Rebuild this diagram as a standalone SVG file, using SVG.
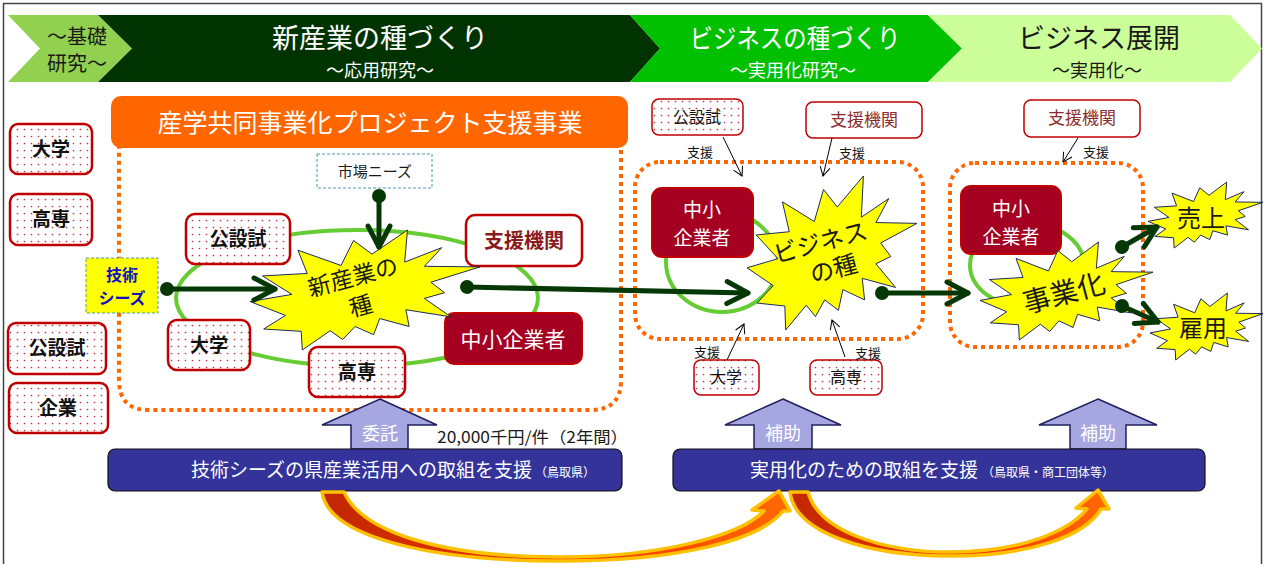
<svg xmlns="http://www.w3.org/2000/svg" width="1266" height="564" viewBox="0 0 1266 564">
<defs>
<style>
text{font-family:"Noto Sans CJK JP","Noto Sans",sans-serif;}
.c{text-anchor:middle}
.w{fill:#fff}
.k{fill:#1a1a1a}
.dotbox{fill:url(#dots);stroke:#C00000;stroke-width:2.5}
.dotbox2{fill:url(#dots);stroke:#C00000;stroke-width:1.5}
.bb{font-size:19px;font-weight:bold;fill:#111;text-anchor:middle}
.sb{font-size:16px;fill:#111;text-anchor:middle}
.sme{fill:#A50021;stroke:#C00000;stroke-width:2}
.burst{fill:#FFFF00;stroke:#1F2A5A;stroke-width:1}
.loop{fill:none;stroke:#66CC33;stroke-width:4}
.zone{fill:none;stroke:#FF6600;stroke-width:4;stroke-dasharray:4 4}
.thick{stroke:#063806;stroke-width:5;fill:none;stroke-linecap:round}
.thin{stroke:#000;stroke-width:1;fill:none}
.lbl{font-size:13px;fill:#111;text-anchor:middle}
.bar{fill:#333399;stroke:#111;stroke-width:1.2}
.up{fill:#A6A6E0;stroke:#1F1F5F;stroke-width:1.5}
.curve{fill:url(#flame);stroke:#FFC000;stroke-width:3.5;stroke-linejoin:round}
.sup{fill:#fff;stroke:#C00000}
</style>
<pattern id="dots" width="7" height="7" patternUnits="userSpaceOnUse">
<rect width="7" height="7" fill="#fff"/>
<circle cx="3.5" cy="3.5" r="0.85" fill="#C0314D"/>
</pattern>
<path id="burst" class="burst" vector-effect="non-scaling-stroke" d="M53.06 20.1 L68.47 0 L67.25 26.75 L83.37 14.69 L75.83 30.24 L100 30.76 L78.63 43.53 L84.58 52.27 L75.83 56.99 L87.39 72.37 L67.78 66.44 L69.18 80.42 L56.39 73.77 L53.76 87.23 L45.7 80.42 L40.28 91.26 L34.85 83.91 L22.76 100 L22.25 84.44 L5.95 82.52 L15.42 71.16 L0 59.62 L18.22 53.67 L5.43 38.29 L24.87 36.19 L20.84 16.78 L39.58 29.55 L45.01 8.74 Z"/>
<marker id="dot" markerUnits="userSpaceOnUse" markerWidth="16" markerHeight="16" refX="8" refY="8" orient="auto">
<circle cx="8" cy="8" r="7" fill="#063806"/>
</marker>
<marker id="chev" markerUnits="userSpaceOnUse" markerWidth="30" markerHeight="30" refX="25" refY="15" orient="auto">
<path d="M4 4 L25 15 L4 26" fill="none" stroke="#063806" stroke-width="5" stroke-linecap="round" stroke-linejoin="round"/>
</marker>
<marker id="thinhead" markerUnits="userSpaceOnUse" markerWidth="12" markerHeight="12" refX="10" refY="6" orient="auto">
<path d="M1 1 L10 6 L1 11" fill="none" stroke="#000" stroke-width="1"/>
</marker>
<linearGradient id="flame" x1="0" y1="0" x2="1" y2="0">
<stop offset="0" stop-color="#C02800"/>
<stop offset="0.6" stop-color="#FF3300"/>
<stop offset="1" stop-color="#FF6A00"/>
</linearGradient>
</defs>

<rect x="3.5" y="3.5" width="1258" height="580" fill="#fff" stroke="#444" stroke-width="1.5"/>

<g id="banner">
<polygon points="8,15 98,15 132,48.5 98,82 8,82 40,48.5" fill="#92D050"/>
<polygon points="98,15 630,15 660,48.5 630,82 98,82 132,48.5" fill="#003300"/>
<polygon points="630,15 928,15 962,48.5 928,82 630,82 660,48.5" fill="#00C000"/>
<polygon points="928,15 1230,15 1262,48.5 1230,82 928,82 962,48.5" fill="#CCFF99"/>
<text x="77" y="44" font-size="20" class="k c">～基礎</text>
<text x="77" y="71" font-size="20" class="k c">研究～</text>
<text x="380" y="48" font-size="27" class="w c">新産業の種づくり</text>
<text x="380" y="77" font-size="18" class="w c">～応用研究～</text>
<text x="795" y="48" font-size="26" class="w c" textLength="211" lengthAdjust="spacingAndGlyphs">ビジネスの種づくり</text>
<text x="793" y="77" font-size="18" class="w c">～実用化研究～</text>
<text x="1099" y="48" font-size="27" class="k c">ビジネス展開</text>
<text x="1097" y="77" font-size="18" class="k c">～実用化～</text>
</g>

<g id="left-players">
<g id="l-daigaku"><rect x="10" y="124" width="82" height="50" rx="8" class="dotbox"/><text x="51" y="156" class="bb">大学</text></g>
<g id="l-kosen"><rect x="10" y="194" width="82" height="51" rx="8" class="dotbox"/><text x="51" y="226" class="bb">高専</text></g>
<g id="l-kosetsushi"><rect x="8" y="323" width="98" height="51" rx="8" class="dotbox"/><text x="57" y="355" class="bb">公設試</text></g>
<g id="l-kigyo"><rect x="9" y="383" width="99" height="50" rx="8" class="dotbox"/><text x="58" y="415" class="bb">企業</text></g>
</g>

<g id="zone-applied">
<path d="M119 140 L621 140 L621 380 Q621 410 591 410 L149 410 Q119 410 119 380 Z" fill="#FFFFCC" class="zone"/>
<rect x="111" y="96" width="517" height="52" rx="10" fill="#FF6600"/>
<text x="370" y="132" font-size="25" class="w c">産学共同事業化プロジェクト支援事業</text>
<ellipse cx="357" cy="298" rx="181" ry="68" class="loop"/>
</g>

<g id="n-market"><rect x="317" y="154" width="115" height="34" fill="#fff" stroke="#4A9BA8" stroke-width="1" stroke-dasharray="3 2"/><text x="375" y="177" font-size="15" class="k c">市場ニーズ</text></g>
<g id="n-seeds"><rect x="86" y="258" width="72" height="55" fill="#FFFF00" stroke="#4A9BA8" stroke-width="1" stroke-dasharray="3 2"/><text x="122" y="281" font-size="16" font-weight="bold" fill="#1010C0" class="c">技術</text><text x="122" y="304" font-size="16" font-weight="bold" fill="#1010C0" class="c">シーズ</text></g>
<g id="n-a-kosetsushi"><rect x="186" y="214" width="104" height="50" rx="9" class="dotbox"/><text x="238" y="246" class="bb">公設試</text></g>
<g id="n-a-shien"><rect x="466" y="215" width="116" height="51" rx="9" class="sup" stroke-width="2.5"/><text x="524" y="248" font-size="20" font-weight="bold" fill="#8B1A1A" class="c">支援機関</text></g>
<g id="n-a-daigaku"><rect x="168" y="320" width="82" height="50" rx="9" class="dotbox"/><text x="209" y="352" class="bb">大学</text></g>
<g id="n-a-sme"><rect x="445" y="313" width="137" height="51" rx="9" class="sme"/><text x="513" y="347" font-size="21" class="w c">中小企業者</text></g>
<g id="n-seed1">
<use href="#burst" transform="translate(250 230) scale(2.3 1.2)"/>
<g transform="rotate(-15 360 292)"><text x="357" y="284" font-size="23" class="k c">新産業の</text><text x="357" y="314" font-size="23" class="k c">種</text></g>
</g>
<g id="n-a-kosen"><rect x="309" y="347" width="96" height="50" rx="9" class="dotbox"/><text x="357" y="379" class="bb">高専</text></g>

<g id="zone-practical">
<rect x="635" y="162" width="288" height="177" rx="25" class="zone"/>
<ellipse cx="722" cy="262" rx="56" ry="50" class="loop"/>
</g>
<g id="n-b-kosetsushi"><rect x="652" y="99" width="91" height="36" rx="7" class="dotbox2"/><text x="697" y="123" class="sb">公設試</text></g>
<g id="n-b-shien"><rect x="806" y="102" width="116" height="36" rx="7" class="sup" stroke-width="1.5"/><text x="864" y="126" font-size="17" fill="#8B2B2B" class="c">支援機関</text></g>
<g id="n-b-sme"><rect x="652" y="188" width="101" height="69" rx="10" class="sme"/><text x="702" y="217" font-size="19" class="w c">中小</text><text x="702" y="245" font-size="19" class="w c">企業者</text></g>
<g id="n-seed2">
<use href="#burst" transform="translate(747 176) scale(1.7 1.54)"/>
<g transform="rotate(-15 826 256)"><text x="824" y="250" font-size="24" class="k c">ビジネス</text><text x="830" y="279" font-size="24" class="k c">の種</text></g>
</g>
<g id="n-b-daigaku"><rect x="694" y="360" width="65" height="35" rx="7" class="dotbox2"/><text x="726" y="383" class="sb">大学</text></g>
<g id="n-b-kosen"><rect x="810" y="360" width="72" height="35" rx="7" class="dotbox2"/><text x="846" y="383" class="sb">高専</text></g>

<g id="zone-business">
<rect x="950" y="163" width="193" height="184" rx="25" class="zone"/>
<ellipse cx="1027" cy="265" rx="57" ry="42" class="loop"/>
</g>
<g id="n-c-shien"><rect x="1024" y="100" width="116" height="37" rx="7" class="sup" stroke-width="1.5"/><text x="1082" y="124" font-size="17" fill="#8B2B2B" class="c">支援機関</text></g>
<g id="n-c-sme"><rect x="961" y="186" width="100" height="68" rx="10" class="sme"/><text x="1011" y="216" font-size="19" class="w c">中小</text><text x="1011" y="244" font-size="19" class="w c">企業者</text></g>
<g id="n-jigyoka">
<use href="#burst" transform="translate(980 242) scale(1.73 0.98)"/>
<text x="1064" y="303" font-size="28" class="k c" transform="rotate(-15 1064 293)">事業化</text>
</g>
<g id="n-uriage">
<use href="#burst" transform="translate(1148 182) scale(1.15 0.66)"/>
<text x="1201" y="227" font-size="24" class="k c">売上</text>
</g>
<g id="n-koyo">
<use href="#burst" transform="translate(1150 293) scale(1.13 0.67)"/>
<text x="1203" y="337" font-size="24" class="k c">雇用</text>
</g>

<g id="connectors">
<line x1="167" y1="289" x2="275" y2="289" class="thick" marker-start="url(#dot)" marker-end="url(#chev)"/>
<line x1="379" y1="196" x2="379" y2="247" class="thick" marker-start="url(#dot)" marker-end="url(#chev)"/>
<line x1="467" y1="287" x2="748" y2="293" class="thick" marker-start="url(#dot)" marker-end="url(#chev)"/>
<line x1="882" y1="293" x2="968" y2="293" class="thick" marker-start="url(#dot)" marker-end="url(#chev)"/>
<line x1="1122" y1="247" x2="1157" y2="227" class="thick" marker-start="url(#dot)" marker-end="url(#chev)"/>
<line x1="1122" y1="306" x2="1158" y2="322" class="thick" marker-start="url(#dot)" marker-end="url(#chev)"/>
<line x1="723" y1="137" x2="742" y2="176" class="thin" marker-end="url(#thinhead)"/>
<line x1="832" y1="138" x2="823" y2="176" class="thin" marker-end="url(#thinhead)"/>
<line x1="727" y1="360" x2="744" y2="324" class="thin" marker-end="url(#thinhead)"/>
<line x1="845" y1="357" x2="832" y2="320" class="thin" marker-end="url(#thinhead)"/>
<line x1="1078" y1="138" x2="1063" y2="162" class="thin" marker-end="url(#thinhead)"/>
<text x="700" y="157" class="lbl">支援</text>
<text x="852" y="158" class="lbl">支援</text>
<text x="707" y="357" class="lbl">支援</text>
<text x="868" y="358" class="lbl">支援</text>
<text x="1096" y="157" class="lbl">支援</text>
</g>

<g id="funding">
<polygon points="380,399 437,425 408,425 408,449 351,449 351,425 322,425" class="up"/>
<text x="380" y="440" font-size="18" class="w c">委託</text>
<polygon points="783,399 841,425 812,425 812,449 754,449 754,425 725,425" class="up"/>
<text x="783" y="440" font-size="18" class="w c">補助</text>
<polygon points="1098,399 1157,425 1126,425 1126,449 1070,449 1070,425 1039,425" class="up"/>
<text x="1098" y="440" font-size="18" class="w c">補助</text>
<text x="437" y="443" font-size="16" class="k" textLength="191" lengthAdjust="spacingAndGlyphs">20,000千円/件（2年間）</text>
<rect x="108" y="449" width="514" height="42" rx="7" class="bar"/>
<text x="191" y="477" font-size="19" class="w">技術シーズの県産業活用への取組を支援<tspan font-size="12" dx="3">（鳥取県）</tspan></text>
<rect x="673" y="449" width="532" height="42" rx="7" class="bar"/>
<text x="750" y="477" font-size="19" class="w">実用化のための取組を支援<tspan font-size="12" dx="4">（鳥取県・商工団体等）</tspan></text>
</g>

<g id="flow-arrows">
<path class="curve" d="M322 492 C328 537 430 561 560 561 C680 561 760 540 783 511 L790 511 L779 491 L752 510 L764 511 C740 536 660 557 560 557 C440 557 362 532 344 492 Z"/>
<path class="curve" d="M790 492 C795 534 870 556 950 556 C1030 556 1085 536 1101 509 L1109 509 L1098 490 L1076 508 L1087 509 C1068 532 1020 552 950 552 C880 552 818 530 808 492 Z"/>
</g>
</svg>
